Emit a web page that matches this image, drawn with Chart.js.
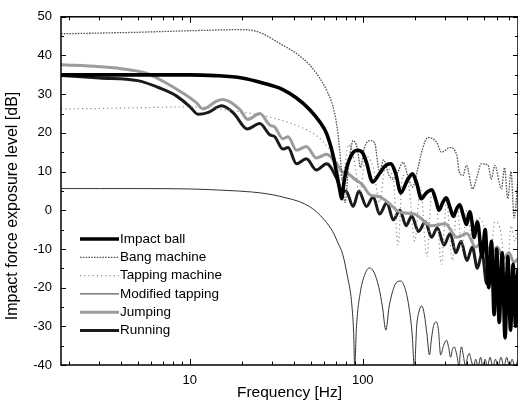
<!DOCTYPE html>
<html>
<head>
<meta charset="utf-8">
<script src="https://cdn.jsdelivr.net/npm/chart.js@4.4.1/dist/chart.umd.min.js"></script>
<style>
  html, body { margin: 0; padding: 0; background: #fff; }
  #wrap { width: 518px; height: 402px; }
</style>
</head>
<body>
<div id="wrap"><canvas id="c" width="518" height="402"></canvas></div>
<script>
// ---- measured spectra: frequency [Hz] and impact force exposure level [dB] ----
const impactFreq = [1.8, 3, 5, 8, 10, 14, 20, 26.4, 34.5, 41.4, 49.4, 56.5, 61.8, 67.1, 70.7, 73.8, 75.5, 77.5, 80.5, 87.5, 93.6, 100, 105, 114, 125, 135, 145, 155, 166, 180, 194, 205, 218, 233, 251, 265, 276, 290, 304, 318, 334, 350, 364, 382, 398, 408, 416, 428, 440, 460, 490, 510, 535, 555, 575, 595, 615, 640, 665, 690, 715, 740, 765, 790];
const impactLevel = [35.0, 35.0, 35.0, 35.0, 35.0, 34.8, 34.2, 32.9, 31.2, 29.0, 26.0, 22.8, 19.8, 14.5, 9.5, 5.0, 3.0, 6.5, 10.7, 14.8, 15.5, 14.8, 12.4, 7.3, 9.5, 11.5, 12.0, 9.5, 4.5, 7.5, 9.4, 7.0, 3.0, 4.5, 5.3, 2.5, 0.0, 2.0, 3.2, 1.0, -1.6, 0.5, 1.4, -1.5, -3.7, -1.5, -0.4, -3.0, -7.0, -3.0, -12.0, -5.0, -20.0, -8.0, -27.0, -10.0, -29.0, -11.0, -33.0, -12.0, -31.0, -14.0, -30.0, -15.0];

const bangFreq = [1.8, 3, 5, 7, 10, 15, 20, 23.5, 27, 33.1, 41.4, 49.4, 56.5, 62.9, 67.1, 70.4, 73.8, 76, 79, 83, 88, 93, 97, 102, 110, 117, 125, 132, 142, 150, 160, 171, 182, 194, 206, 222, 238, 268, 285, 319, 350, 361, 380, 398, 432, 460, 484, 531, 553, 580, 634, 660, 690, 720, 750, 790];
const bangLevel = [45.6, 45.8, 46.0, 46.2, 46.4, 46.6, 46.7, 46.4, 45.4, 43.1, 40.5, 37.5, 34.1, 30.3, 27.0, 22.6, 15.0, 8.0, 2.0, 12.0, 18.0, 16.0, 11.0, 16.0, 18.0, 17.5, 10.0, 13.0, 9.0, 8.0, 10.0, 12.4, 9.0, 6.0, 9.9, 16.0, 18.8, 17.5, 15.0, 16.2, 14.2, 10.0, 9.0, 11.6, 5.5, 9.0, 12.0, 11.6, 8.0, 11.6, 5.5, 11.0, 3.0, 10.0, -2.0, 8.0];

const tapFreq = [1.8, 3, 5, 10, 21.3, 30, 43.2, 54, 61.8, 70, 76, 83, 90, 96, 104, 115, 125, 135, 150, 160, 170, 185, 200, 215, 235, 250, 265, 285, 305, 330, 350, 375, 400, 430, 460, 500, 540, 580, 630, 680, 720, 760, 790];
const tapLevel = [26.2, 26.3, 26.5, 26.7, 25.2, 23.9, 21.6, 19.3, 16.7, 13.0, 8.0, 17.0, 12.0, 4.0, 14.0, 11.0, 2.0, 11.0, 8.0, -9.0, 9.0, 6.0, -8.0, 6.0, -12.0, 4.0, 3.0, -14.0, 2.0, -13.0, 1.0, -10.0, 0.0, -8.0, -2.0, -4.0, -16.0, -3.0, -6.0, -20.0, -4.0, -8.0, -5.0];

const modFreq = [1.8, 3, 5, 10, 15, 23.1, 30.2, 36, 43.2, 49, 54, 60, 67, 72, 76.6, 81.8, 86, 88.6, 89.8, 92, 97, 103, 109, 116, 124, 130, 136, 142, 150, 158, 166, 175, 185, 193, 199, 205, 212, 219, 226, 235, 243, 250, 258, 267, 274, 282, 293, 305, 314, 322, 330, 338, 350, 361, 366, 372, 383, 393, 403, 413, 425, 437, 450, 465, 480, 495, 510, 525, 545, 565, 585, 605, 630, 655, 680, 705, 730, 760, 790];
const modLevel = [5.6, 5.6, 5.6, 5.5, 5.2, 4.7, 4.0, 3.2, 2.2, 1.0, -0.4, -2.5, -5.5, -8.5, -11.4, -17.4, -23.4, -31.8, -40.5, -30.0, -21.0, -16.5, -14.9, -16.0, -20.0, -25.0, -31.0, -25.0, -20.5, -18.5, -18.3, -20.0, -25.0, -32.0, -41.0, -30.0, -26.0, -24.7, -26.5, -32.0, -37.4, -33.0, -29.5, -28.9, -31.0, -37.4, -35.0, -33.6, -35.5, -38.0, -36.0, -35.3, -37.5, -40.5, -37.0, -35.3, -38.0, -40.5, -38.0, -37.0, -39.0, -40.5, -38.5, -40.5, -38.0, -40.5, -38.5, -40.5, -38.0, -40.5, -38.5, -40.5, -38.0, -40.5, -38.0, -40.5, -38.5, -40.5, -38.5];

const jumpFreq = [1.8, 3, 4, 5.6, 7.3, 9.1, 10.9, 11.9, 14.3, 15.5, 19.5, 21.6, 25.4, 29, 31, 34.5, 37, 41.4, 47.2, 54, 61.8, 70.7, 76, 82, 90, 100, 110, 125, 140, 164, 200, 250, 300, 350, 400, 450, 500, 550, 600, 650, 700, 750, 790];
const jumpLevel = [37.6, 37.1, 36.6, 35.4, 32.9, 30.3, 27.8, 26.2, 28.2, 28.6, 26.0, 23.5, 25.0, 22.0, 21.5, 18.5, 19.0, 15.5, 16.5, 13.5, 14.5, 12.0, 10.0, 9.5, 8.0, 6.5, 4.0, 3.5, 2.0, -0.5, -1.0, -4.0, -3.5, -7.0, -6.0, -9.5, -8.0, -11.0, -9.5, -12.5, -11.0, -13.5, -12.5];

const runFreq = [1.8, 3, 5, 6.7, 8.4, 10, 11.2, 12.8, 15.3, 18, 21.5, 25.4, 29, 31, 34.5, 37, 41.4, 47.2, 54, 61.8, 70.7, 76, 80, 88, 95, 105, 115, 125, 138, 150, 164, 178, 192, 210, 230, 250, 270, 295, 320, 345, 370, 400, 430, 460, 490, 520, 550, 580, 610, 640, 680, 720, 760, 790];
const runLevel = [34.8, 34.2, 33.5, 31.6, 29.5, 26.8, 24.8, 25.3, 27.0, 25.0, 21.0, 22.4, 19.5, 19.0, 15.8, 16.2, 12.0, 13.3, 10.4, 12.0, 8.2, 4.7, 5.0, 1.0, 5.0, 1.0, 3.5, -1.0, 2.0, -2.5, 0.0, -4.0, -1.5, -5.5, -3.0, -7.0, -4.5, -9.0, -6.0, -11.0, -8.0, -13.0, -9.5, -15.0, -11.0, -19.0, -13.0, -22.0, -15.0, -24.0, -16.0, -26.0, -17.0, -24.0];

const seriesNames = ['Impact ball', 'Bang machine', 'Tapping machine', 'Modified tapping', 'Jumping', 'Running'];

// axis ranges and tick positions
const freqMin = 1.8, freqMax = 790;
const levelMin = -40, levelMax = 50;
const freqLabels = [10, 100];
const freqMinorTicks = [2, 3, 4, 5, 6, 7, 8, 9, 20, 30, 40, 50, 60, 70, 80, 90, 200, 300, 400, 500, 600, 700];

function pairs(fs, vs) { return fs.map((f, i) => ({ x: f, y: vs[i] })); }

const styles = [
  { color: '#000000', width: 3.6, dash: [] },
  { color: '#555555', width: 1.3, dash: [1.6, 1.2] },
  { color: '#8a8a8a', width: 1.2, dash: [1.2, 3] },
  { color: '#333333', width: 1.0, dash: [] },
  { color: '#9c9c9c', width: 3.0, dash: [] },
  { color: '#1a1a1a', width: 3.0, dash: [] }
];
const seriesData = [
  pairs(impactFreq, impactLevel),
  pairs(bangFreq, bangLevel),
  pairs(tapFreq, tapLevel),
  pairs(modFreq, modLevel),
  pairs(jumpFreq, jumpLevel),
  pairs(runFreq, runLevel)
];

const datasets = seriesNames.map((name, i) => ({
  label: name,
  data: seriesData[i],
  borderColor: styles[i].color,
  borderWidth: styles[i].width,
  borderDash: styles[i].dash,
  pointRadius: 0,
  fill: false,
  cubicInterpolationMode: 'monotone',
  clip: 0
}));

// frame, inward ticks, legend and rotated y title
const decorations = {
  id: 'decorations',
  afterDraw(chart) {
    const { ctx, chartArea: a, scales: { x, y } } = chart;
    ctx.save();
    ctx.strokeStyle = '#000';
    ctx.lineWidth = 1;
    ctx.beginPath();
    const tick = (x1, y1, x2, y2) => { ctx.moveTo(x1, y1); ctx.lineTo(x2, y2); };
    freqMinorTicks.concat(freqLabels).forEach(f => {
      const px = Math.round(x.getPixelForValue(f)) + 0.5;
      const len = freqLabels.includes(f) ? 6 : 3.5;
      tick(px, a.bottom, px, a.bottom - len);
      tick(px, a.top, px, a.top + len);
    });
    for (let v = levelMin; v <= levelMax; v += 5) {
      const py = Math.round(y.getPixelForValue(v)) + 0.5;
      const len = v % 10 === 0 ? 5 : 3;
      tick(a.left, py, a.left + len, py);
      tick(a.right, py, a.right - len, py);
    }
    ctx.stroke();

    ctx.lineWidth = 1.5;
    ctx.strokeRect(a.left, a.top, a.right - a.left, a.bottom - a.top);

    // legend
    ctx.font = '13.5px "Liberation Sans", Arial, sans-serif';
    ctx.fillStyle = '#000';
    ctx.textBaseline = 'middle';
    ctx.textAlign = 'left';
    seriesNames.forEach((name, i) => {
      const ly = 239 + i * 18.3;
      ctx.beginPath();
      ctx.strokeStyle = styles[i].color;
      ctx.lineWidth = styles[i].width;
      ctx.setLineDash(styles[i].dash);
      ctx.moveTo(80, ly);
      ctx.lineTo(119, ly);
      ctx.stroke();
      ctx.setLineDash([]);
      ctx.fillText(name, 120, ly);
    });

    // y axis title
    ctx.translate(13, 206);
    ctx.rotate(-Math.PI / 2);
    ctx.textAlign = 'center';
    ctx.font = '16px "Liberation Sans", Arial, sans-serif';
    ctx.fillText('Impact force exposure level [dB]', 0, 0);
    ctx.restore();
  }
};

const tickFont = { family: '"Liberation Sans Narrow", "Liberation Sans", Arial, sans-serif', size: 13 };

new Chart(document.getElementById('c'), {
  type: 'line',
  data: { datasets },
  options: {
    responsive: false,
    animation: false,
    devicePixelRatio: 1,
    events: [],
    layout: { padding: { left: 0, top: 13, right: 0, bottom: 0 } },
    plugins: { legend: { display: false }, tooltip: { enabled: false } },
    scales: {
      x: {
        type: 'logarithmic',
        min: freqMin,
        max: freqMax,
        afterBuildTicks: s => { s.ticks = freqLabels.map(v => ({ value: v })); },
        afterFit: s => { s.height = 37; },
        grid: { display: false, drawTicks: false },
        border: { display: false },
        ticks: {
          autoSkip: false, maxRotation: 0, padding: 8, color: '#000', font: tickFont,
          callback: v => String(v)
        },
        title: {
          display: true, text: 'Frequency [Hz]', color: '#000',
          font: { family: '"Liberation Sans", Arial, sans-serif', size: 15.5 },
          padding: { top: 0, bottom: 0 }
        }
      },
      y: {
        min: levelMin,
        max: levelMax,
        afterFit: s => { s.width = 61; },
        grid: { display: false, drawTicks: false },
        border: { display: false },
        ticks: { stepSize: 10, padding: 9, color: '#000', font: tickFont }
      }
    }
  },
  plugins: [decorations]
});
</script>
</body>
</html>
